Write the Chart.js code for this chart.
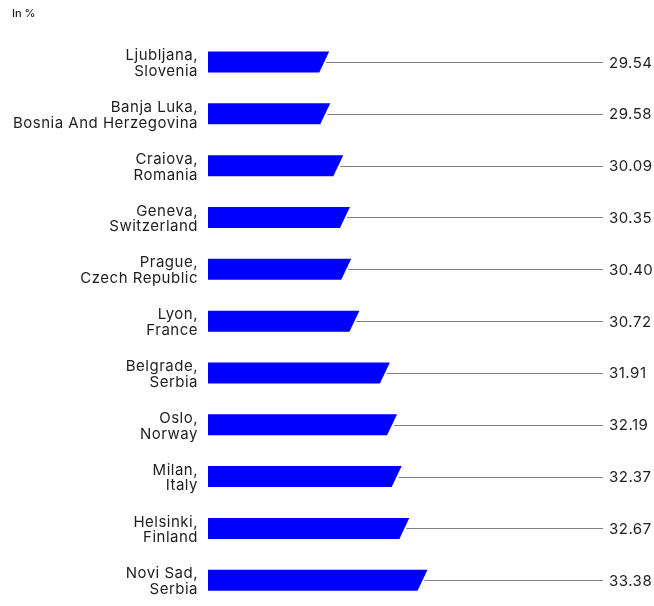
<!DOCTYPE html>
<html>
<head>
<meta charset="utf-8">
<script src="https://cdn.jsdelivr.net/npm/chart.js@4"></script>
<style>
  html, body { margin: 0; padding: 0; background: #fff; }
  #wrap { position: relative; width: 654px; height: 606px; }
</style>
</head>
<body>
<div id="wrap"><canvas id="chart"></canvas></div>
<script>
const cities = [
    ['Ljubljana,', 'Slovenia'],
    ['Banja Luka,', 'Bosnia And Herzegovina'],
    ['Craiova,', 'Romania'],
    ['Geneva,', 'Switzerland'],
    ['Prague,', 'Czech Republic'],
    ['Lyon,', 'France'],
    ['Belgrade,', 'Serbia'],
    ['Oslo,', 'Norway'],
    ['Milan,', 'Italy'],
    ['Helsinki,', 'Finland'],
    ['Novi Sad,', 'Serbia'],
];
const shares = [29.54, 29.58, 30.09, 30.35, 30.40, 30.72, 31.91, 32.19, 32.37, 32.67, 33.38];
const unitLabel = 'In %';

const FONT = "Inter, 'Noto Sans', sans-serif";
const INK = '#1e1e1e';

// slightly looser tracking for every label on the canvas
const tracking = {
    id: 'tracking',
    beforeDraw(chart) {
        chart.ctx.letterSpacing = '0.5px';
    }
};

// bars with a slanted end, a thin leader line out to the right edge and the value
const slantBars = {
    id: 'slantBars',
    beforeDatasetDraw(chart, args) {
        const { ctx, chartArea } = chart;
        const xScale = chart.scales.x;
        const start = xScale.getPixelForValue(xScale.min);
        const values = chart.data.datasets[args.index].data;
        ctx.save();
        args.meta.data.forEach((bar, i) => {
            const h = bar.height / 2;
            const slant = 5;
            ctx.fillStyle = '#0000ff';
            ctx.beginPath();
            ctx.moveTo(start, bar.y - h);
            ctx.lineTo(bar.x + slant, bar.y - h);
            ctx.lineTo(bar.x - slant, bar.y + h);
            ctx.lineTo(start, bar.y + h);
            ctx.closePath();
            ctx.fill();

            ctx.strokeStyle = '#808080';
            ctx.lineWidth = 1;
            ctx.beginPath();
            ctx.moveTo(bar.x + 2, Math.round(bar.y) + 0.5);
            ctx.lineTo(chartArea.right, Math.round(bar.y) + 0.5);
            ctx.stroke();

            ctx.fillStyle = INK;
            ctx.font = '15px ' + FONT;
            ctx.textAlign = 'left';
            ctx.textBaseline = 'middle';
            ctx.fillText(values[i].toFixed(2), chartArea.right + 6, bar.y + 1);
        });
        ctx.restore();
        return false;
    },
    afterDraw(chart) {
        const ctx = chart.ctx;
        ctx.save();
        ctx.letterSpacing = '0px';
        ctx.fillStyle = INK;
        ctx.font = '500 11px ' + FONT;
        ctx.textAlign = 'left';
        ctx.textBaseline = 'middle';
        ctx.fillText(unitLabel, 12, 14);
        ctx.restore();
    }
};

new Chart(document.getElementById('chart'), {
    type: 'bar',
    data: {
        labels: cities,
        datasets: [{
            data: shares,
            backgroundColor: '#0000ff',
            barThickness: 21
        }]
    },
    options: {
        indexAxis: 'y',
        responsive: true,
        maintainAspectRatio: false,
        animation: false,
        layout: {
            padding: { top: 62, bottom: 21.5, left: 0, right: 51 }
        },
        scales: {
            x: {
                display: false,
                min: 25,
                max: 40.43
            },
            y: {
                offset: false,
                border: { display: false },
                grid: { display: false, drawTicks: false },
                ticks: {
                    padding: 10,
                    labelOffset: 1.5,
                    color: INK,
                    font: { family: FONT, size: 15, lineHeight: 1.05 }
                },
                afterFit(scale) {
                    scale.width = 208;
                }
            }
        },
        plugins: {
            legend: { display: false },
            tooltip: { enabled: false }
        }
    },
    plugins: [tracking, slantBars]
});
</script>
</body>
</html>
